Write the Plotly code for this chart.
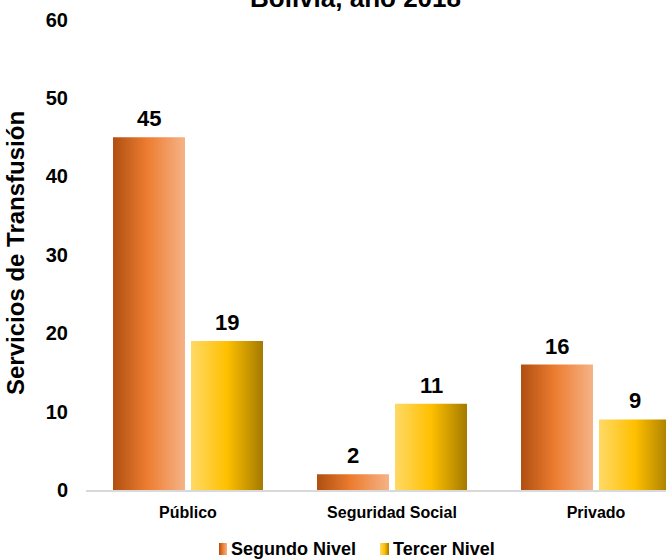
import plotly.graph_objects as go

# ---- data ----
categories = ["Público", "Seguridad Social", "Privado"]
segundo_nivel = [45, 2, 16]
tercer_nivel = [19, 11, 9]
series_names = ["Segundo Nivel", "Tercer Nivel"]
y_ticks = [0, 10, 20, 30, 40, 50, 60]
title_text = "Bolivia, año 2018"
y_title = "Servicios de Transfusión"

# ---- layout constants (pixels) ----
W, H = 666, 559
PLOT_L, PLOT_R, PLOT_T, PLOT_B = 86, 666, 19.5, 490
CAT_PX = 204.0
BAR_W = 72 / CAT_PX
OFF = 39 / CAT_PX
FONT = "Liberation Sans, Arial, sans-serif"

orange_scale = [[0, "#b04f10"], [0.48, "#ed7d31"], [1, "#f5b387"]]
yellow_scale = [[0, "#ffd966"], [0.5, "#ffc000"], [1, "#a47a00"]]

fig = go.Figure()

series = [
    (segundo_nivel, orange_scale, -1),
    (tercer_nivel, yellow_scale, +1),
]
for values, scale, sign in series:
    for i, v in enumerate(values):
        xc = i + sign * OFF
        x0, x1 = xc - BAR_W / 2, xc + BAR_W / 2
        fig.add_trace(go.Scatter(
            x=[x0, x1, x1, x0, x0], y=[0, 0, v, v, 0],
            mode="lines", fill="toself",
            fillgradient=dict(type="horizontal", colorscale=scale),
            line=dict(width=0), showlegend=False, hoverinfo="skip",
            xaxis="x", yaxis="y",
        ))
        fig.add_annotation(
            x=xc, y=v, xref="x", yref="y", text=str(v), showarrow=False,
            yanchor="bottom", yshift=4,
            font=dict(family=FONT, size=22, color="#000000", weight="bold"),
        )

# ---- custom legend (pixel overlay axes) ----
legend_swatches = [(219, 227, orange_scale), (380, 389, yellow_scale)]
legend_text_x = [229, 391]
for (sx0, sx1, scale), name, tx in zip(legend_swatches, series_names, legend_text_x):
    fig.add_trace(go.Scatter(
        x=[sx0, sx1, sx1, sx0, sx0], y=[555, 555, 543, 543, 555],
        mode="lines", fill="toself",
        fillgradient=dict(type="horizontal", colorscale=scale),
        line=dict(width=0), showlegend=False, hoverinfo="skip",
        xaxis="x2", yaxis="y2",
    ))
    fig.add_annotation(
        x=tx, y=549, xref="x2", yref="y2", text=name, showarrow=False,
        xanchor="left", yanchor="middle",
        font=dict(family=FONT, size=18, color="#000000", weight="bold"),
    )

# title (top part cut off, as in reference)
fig.add_annotation(
    x=355, y=0, xref="x2", yref="y2", yshift=2, text=title_text, showarrow=False,
    xanchor="center", yanchor="middle",
    font=dict(family=FONT, size=26, color="#000000", weight="bold"),
)
# y axis title
fig.add_annotation(
    x=15, y=253, xref="x2", yref="y2", text=y_title, showarrow=False,
    textangle=-90, xanchor="center", yanchor="middle",
    font=dict(family=FONT, size=24, color="#000000", weight="bold"),
)

fig.update_layout(
    width=W, height=H,
    margin=dict(l=0, r=0, t=0, b=0, autoexpand=False),
    paper_bgcolor="white", plot_bgcolor="rgba(0,0,0,0)",
    showlegend=False,
    xaxis=dict(
        domain=[PLOT_L / W, PLOT_R / W], anchor="y",
        range=[-0.5, -0.5 + (PLOT_R - PLOT_L) / CAT_PX],
        tickvals=list(range(len(categories))), ticktext=categories,
        tickfont=dict(family=FONT, size=16, color="#000000", weight="bold"),
        ticks="", ticklabelstandoff=7,
        showline=True, linecolor="#d9d9d9", linewidth=1.5,
        showgrid=False, zeroline=False,
    ),
    yaxis=dict(
        domain=[(H - PLOT_B) / H, (H - PLOT_T) / H], anchor="x",
        range=[0, 60], tickvals=y_ticks,
        tickfont=dict(family=FONT, size=20, color="#000000", weight="bold"),
        ticks="", ticklabelstandoff=17,
        showline=False, showgrid=False, zeroline=False,
    ),
    xaxis2=dict(domain=[0, 1], range=[0, W], anchor="y2", visible=False),
    yaxis2=dict(domain=[0, 1], range=[H, 0], anchor="x2", visible=False),
)

fig.write_html(
    "out.html",
    config={"displayModeBar": False},
    post_script="document.body.style.margin='0px';document.body.style.overflow='hidden';",
)
